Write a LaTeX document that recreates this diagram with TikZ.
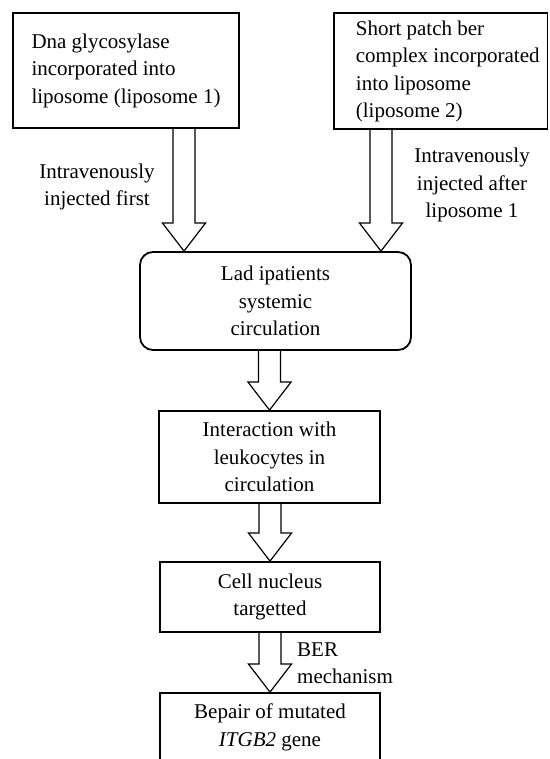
\documentclass[tikz,border=0pt]{standalone}
\usepackage{fontspec}
\setmainfont{Liberation Serif}
\usetikzlibrary{calc}
\begin{document}
\begin{tikzpicture}[x=1pt,y=1pt,
    box/.style={draw,line width=1.8pt,inner sep=0pt,font=\fontsize{21}{27.5}\selectfont},
    note/.style={inner sep=0pt,font=\fontsize{21}{27.5}\selectfont},
    fatarrow/.style={draw,line width=1.2pt,
      to path={let \p1=(\tikztostart), \p2=(\tikztotarget) in
        (\x2-11pt,\y1) -- (\x2-11pt,\y2+28pt) -- (\x2-21.5pt,\y2+28pt) -- (\x2,\y2)
        -- (\x2+21.5pt,\y2+28pt) -- (\x2+11pt,\y2+28pt) -- (\x2+11pt,\y1)}}]
  \useasboundingbox (0,0) rectangle (549,759);
  \node[box,align=left,minimum width=226pt,minimum height=115pt] (lipo1) at (126,688.5)
    {Dna glycosylase\\incorporated into\\liposome (liposome 1)};
  \node[box,minimum width=213.5pt,minimum height=116pt] (lipo2) at (440.75,688)
    {\begin{tabular}{@{\hspace{14pt}}l@{}}Short patch ber\\complex incorporated\\into liposome\\(liposome 2)\end{tabular}};
  \node[box,align=center,rounded corners=13pt,minimum width=271pt,minimum height=98pt] (lad) at (275.5,458)
    {Lad ipatients\\systemic\\circulation};
  \node[box,align=center,minimum width=221pt,minimum height=92pt] (leuko) at (269.5,302)
    {Interaction with\\leukocytes in\\circulation};
  \node[box,align=center,minimum width=220pt,minimum height=70pt] (nucleus) at (270,162)
    {Cell nucleus\\targetted};
  \node[box,align=center,minimum width=220pt,minimum height=69pt] (repair) at (270,31.5)
    {Bepair of mutated\\\textit{ITGB2} gene};
  \coordinate (lad-in1) at ([xshift=-91.5pt]lad.north);
  \coordinate (lad-in2) at ([xshift=105.5pt]lad.north);
  \draw[fatarrow] (lipo1.south -| lad-in1) to (lad-in1);
  \draw[fatarrow] (lipo2.south -| lad-in2) to (lad-in2);
  \draw[fatarrow] (lad.south -| leuko.north) to (leuko.north);
  \draw[fatarrow] (leuko.south) to (nucleus.north);
  \draw[fatarrow] (nucleus.south) to (repair.north);
  \node[note,align=center] (inj1) at (97,572) {Intravenously\\injected first};
  \node[note,align=center] (inj2) at (472,574) {Intravenously\\injected after\\liposome 1};
  \node[note,align=left,anchor=west] (ber) at (297,96) {BER\\mechanism};
\end{tikzpicture}
\end{document}
